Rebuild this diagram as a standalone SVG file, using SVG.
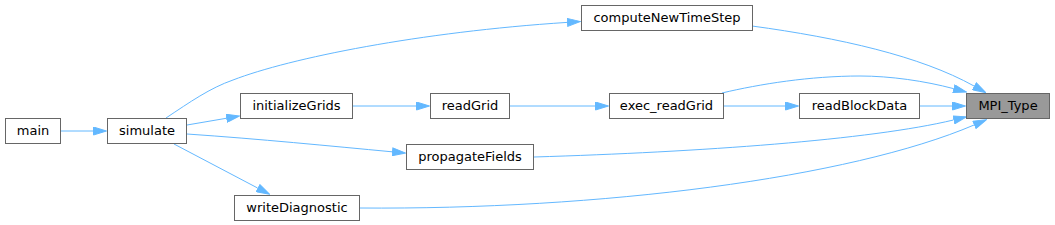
<svg xmlns="http://www.w3.org/2000/svg" width="1055" height="225" viewBox="0 0 1055 225">
<defs>
<style>
.node rect{fill:#ffffff;stroke:#666666;stroke-width:1}
.node.cur rect{fill:#999999}
.node text{font-family:"DejaVu Sans",sans-serif;font-size:13px;fill:#000000;text-anchor:middle}
.edge{fill:none;stroke:#63b8ff;stroke-width:1;marker-end:url(#ah)}
</style>
<marker id="ah" viewBox="0 0 14 9" refX="0" refY="4.5" markerWidth="14" markerHeight="9" markerUnits="userSpaceOnUse" orient="auto">
<path d="M0.5,0.5 L13.5,4.5 L0.5,8.5 z" fill="#63b8ff" stroke="#63b8ff" stroke-width="1"/>
</marker>
</defs>
<rect width="1055" height="225" fill="#ffffff"/>
<g id="connectors">
<path class="edge" d="M60,131 L93,131"/>
<path class="edge" d="M187,125 L226.2,118.3"/>
<path class="edge" d="M166,118 C190,102 210,88 233,80 C290,58 420,32 567,22.4"/>
<path class="edge" d="M187,134 C260,139 330,146 392,151.8"/>
<path class="edge" d="M174,144 L257.6,188"/>
<path class="edge" d="M352,106 L416,106"/>
<path class="edge" d="M509,106 L595,106"/>
<path class="edge" d="M724,106 L785,106"/>
<path class="edge" d="M919,106 L952,106"/>
<path class="edge" d="M722,93 C760,84 810,76 860,76 C890,76 925,81 953.4,88.6"/>
<path class="edge" d="M752,26 C840,38 920,56 974,86"/>
<path class="edge" d="M534,157 C700,152 870,140 953.4,120"/>
<path class="edge" d="M359,208 C600,210 850,178 974,125"/>
</g>
<g id="n_main" class="node"><rect x="5.5" y="118.5" width="55" height="25"/><text x="33" y="135">main</text></g>
<g id="n_simulate" class="node"><rect x="107.5" y="118.5" width="79" height="25"/><text x="147" y="135">simulate</text></g>
<g id="n_initializeGrids" class="node"><rect x="240.5" y="93.5" width="112" height="25"/><text x="296.5" y="110">initializeGrids</text></g>
<g id="n_writeDiagnostic" class="node"><rect x="234.5" y="195.5" width="125" height="25"/><text x="297" y="212">writeDiagnostic</text></g>
<g id="n_computeNewTimeStep" class="node"><rect x="581.5" y="5.5" width="171" height="25"/><text x="667" y="22">computeNewTimeStep</text></g>
<g id="n_readGrid" class="node"><rect x="430.5" y="93.5" width="79" height="25"/><text x="470" y="110">readGrid</text></g>
<g id="n_exec_readGrid" class="node"><rect x="609.5" y="93.5" width="114" height="25"/><text x="666.5" y="110">exec_readGrid</text></g>
<g id="n_propagateFields" class="node"><rect x="406.5" y="144.5" width="127" height="25"/><text x="470" y="161">propagateFields</text></g>
<g id="n_readBlockData" class="node"><rect x="799.5" y="93.5" width="120" height="25"/><text x="859.5" y="110">readBlockData</text></g>
<g id="n_MPI_Type" class="node cur"><rect x="966.5" y="93.5" width="83" height="25"/><text x="1008" y="110">MPI_Type</text></g>
</svg>
